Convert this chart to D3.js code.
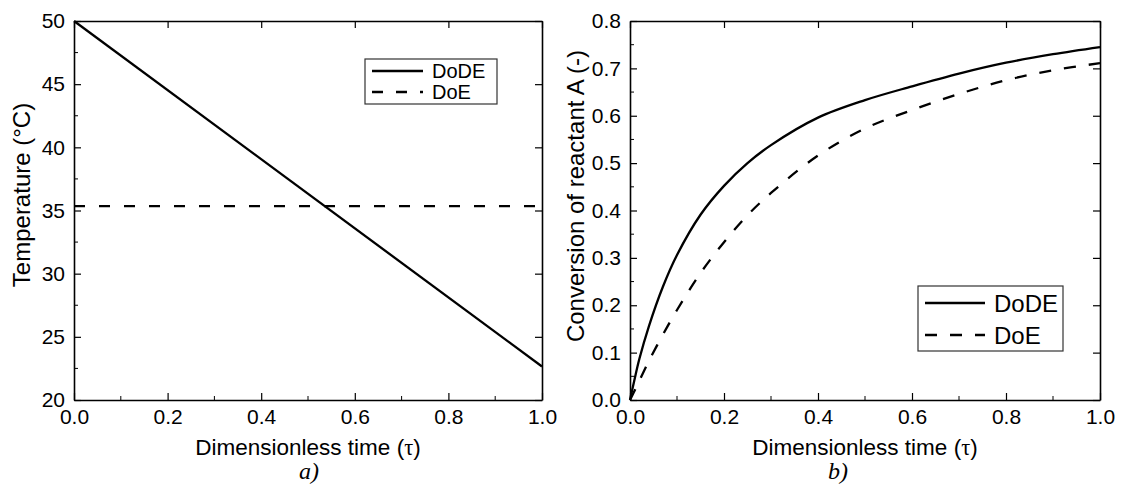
<!DOCTYPE html>
<html>
<head>
<meta charset="utf-8">
<script src="https://cdn.jsdelivr.net/npm/d3@7"></script>
<style>
  html, body { margin: 0; padding: 0; background: #fff; }
  svg { display: block; }
  text { font-family: "Liberation Sans", Arial, sans-serif; fill: #000; }
</style>
</head>
<body>
<svg id="chart" width="1122" height="492"></svg>
<script>
// ---- Data ----
const tempTau = [0, 1];
const tempDoDE = [50, 22.65];
const tempDoE = [35.35, 35.35];

const convTau = [0, 0.01, 0.02, 0.04, 0.07, 0.1, 0.15, 0.2, 0.25, 0.3, 0.4, 0.5, 0.6, 0.7, 0.8, 0.9, 1.0];
const convDoDE = [0, 0.045, 0.087, 0.155, 0.239, 0.306, 0.391, 0.452, 0.5, 0.538, 0.596, 0.633, 0.662, 0.689, 0.712, 0.730, 0.745];
const convDoE  = [0, 0.02, 0.041, 0.082, 0.138, 0.19, 0.268, 0.333, 0.39, 0.437, 0.516, 0.573, 0.612, 0.646, 0.675, 0.696, 0.711];

const xTicks = [0, 0.2, 0.4, 0.6, 0.8, 1.0];
const xMinor = [0.1, 0.3, 0.5, 0.7, 0.9];
const tempTicks = [20, 25, 30, 35, 40, 45, 50];
const tempMinor = [22.5, 27.5, 32.5, 37.5, 42.5, 47.5];
const convTicks = [0, 0.1, 0.2, 0.3, 0.4, 0.5, 0.6, 0.7, 0.8];
const convMinor = [0.05, 0.15, 0.25, 0.35, 0.45, 0.55, 0.65, 0.75];
const seriesNames = ["DoDE", "DoE"];

const svg = d3.select("#chart");
const FS = 21;

function panel(opts) {
  const x = d3.scaleLinear().domain([0, 1]).range([opts.left, opts.right]);
  const y = d3.scaleLinear().domain(opts.yDomain).range([opts.bottom, opts.top]);
  const g = svg.append("g");
  const majorLen = 7, minorLen = 4;

  // bottom axis
  const bx = g.append("g").attr("transform", `translate(0,${opts.bottom})`)
    .call(d3.axisBottom(x).tickValues(xTicks).tickSizeInner(-majorLen).tickSizeOuter(0).tickPadding(9).tickFormat(d3.format(".1f")));
  bx.append("g").selectAll("line").data(xMinor).join("line")
    .attr("x1", d => x(d)).attr("x2", d => x(d)).attr("y1", 0).attr("y2", -minorLen).attr("stroke", "#000");
  // left axis
  const ly = g.append("g").attr("transform", `translate(${opts.left},0)`)
    .call(d3.axisLeft(y).tickValues(opts.yTicks).tickSizeInner(-majorLen).tickSizeOuter(0).tickPadding(9).tickFormat(opts.yFormat));
  ly.append("g").selectAll("line").data(opts.yMinor).join("line")
    .attr("y1", d => y(d)).attr("y2", d => y(d)).attr("x1", 0).attr("x2", minorLen).attr("stroke", "#000");
  // top axis
  g.append("g").attr("transform", `translate(0,${opts.top})`)
    .call(d3.axisTop(x).tickValues(xTicks).tickSizeInner(-majorLen).tickSizeOuter(0).tickFormat(""));
  // right axis
  g.append("g").attr("transform", `translate(${opts.right},0)`)
    .call(d3.axisRight(y).tickValues(opts.yTicks).tickSizeInner(-majorLen).tickSizeOuter(0).tickFormat(""));

  g.selectAll(".domain").attr("stroke", "#000").attr("stroke-width", 1.6);
  g.selectAll(".tick line").attr("stroke", "#000").attr("stroke-width", 1.2);
  g.selectAll(".tick text").style("font-size", FS + "px").style("font-family", "'Liberation Sans', Arial, sans-serif");

  // lines
  const line = d3.line().x(d => x(d[0])).y(d => y(d[1])).curve(d3.curveCatmullRom.alpha(0.5));
  opts.series.forEach((s, i) => {
    g.append("path").datum(opts.tau.map((t, k) => [t, s[k]]))
      .attr("d", line).attr("fill", "none").attr("stroke", "#000")
      .attr("stroke-width", 2.3)
      .attr("stroke-dasharray", i === 1 ? opts.dash : null);
  });

  // axis titles
  const xt = g.append("text").attr("x", (opts.left + opts.right) / 2).attr("y", 455)
    .attr("text-anchor", "middle").style("font-size", "22.5px");
  xt.append("tspan").text("Dimensionless time (");
  xt.append("tspan").style("font-family", "'Liberation Serif', 'Times New Roman', serif").text("τ");
  xt.append("tspan").text(")");

  g.append("text").attr("transform", `translate(${opts.yTitleX},${opts.yTitleY}) rotate(-90)`)
    .attr("text-anchor", "middle").style("font-size", "24px").text(opts.yTitle);

  g.append("text").attr("x", opts.captionX).attr("y", 479).attr("text-anchor", "middle")
    .style("font-family", "'Liberation Serif', 'Times New Roman', serif").style("font-style", "italic")
    .style("font-size", "24px").text(opts.caption);

  // legend
  const L = opts.legend;
  const lg = g.append("g");
  lg.append("rect").attr("x", L.x).attr("y", L.y).attr("width", L.w).attr("height", L.h)
    .attr("fill", "#fff").attr("stroke", "#333").attr("stroke-width", 1.2);
  seriesNames.forEach((name, i) => {
    const cy = L.y + L.row0 + i * L.rowH;
    lg.append("line").attr("x1", L.x + L.lx1).attr("x2", L.x + L.lx2).attr("y1", cy).attr("y2", cy)
      .attr("stroke", "#000").attr("stroke-width", 2.3).attr("stroke-dasharray", i === 1 ? L.dash : null);
    lg.append("text").attr("x", L.x + L.tx).attr("y", cy).attr("dy", "0.36em")
      .style("font-size", L.fs + "px").text(name);
  });
}

panel({
  left: 74, right: 542, top: 21, bottom: 400,
  yDomain: [20, 50], yTicks: tempTicks, yMinor: tempMinor, yFormat: d3.format("d"),
  tau: tempTau, series: [tempDoDE, tempDoE], dash: "11,14",
  yTitle: "Temperature (°C)", yTitleX: 30, yTitleY: 195,
  caption: "a)", captionX: 309,
  legend: { x: 365, y: 59, w: 132, h: 45, row0: 12, rowH: 21, lx1: 7, lx2: 58, tx: 67, fs: 20, dash: "11,13" }
});

panel({
  left: 630, right: 1100, top: 21, bottom: 400,
  yDomain: [0, 0.8], yTicks: convTicks, yMinor: convMinor, yFormat: d3.format(".1f"),
  tau: convTau, series: [convDoDE, convDoE], dash: "12,13",
  yTitle: "Conversion of reactant A (-)", yTitleX: 584, yTitleY: 196,
  caption: "b)", captionX: 838,
  legend: { x: 918, y: 286, w: 145, h: 65, row0: 17, rowH: 32, lx1: 7, lx2: 67, tx: 76, fs: 24, dash: "12,13" }
});
</script>
</body>
</html>
